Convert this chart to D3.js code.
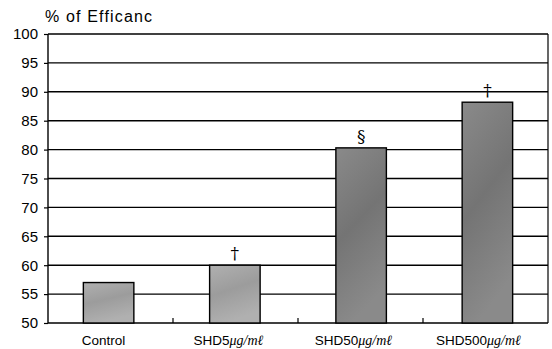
<!DOCTYPE html>
<html>
<head>
<meta charset="utf-8">
<script src="https://cdn.jsdelivr.net/npm/d3@7"></script>
<style>
  body { margin: 0; background: #fff; }
  svg { font-family: 'Liberation Sans', Arial, sans-serif; }
</style>
</head>
<body>
<div id="chart"></div>
<script>
// Chart data
var categories = ['Control', 'SHD5', 'SHD50', 'SHD500']
var unitLabels = ['', 'μg/mℓ', 'μg/mℓ', 'μg/mℓ']
var efficacy = [57, 60, 80.3, 88.2]
var markers = ['', '†', '§', '†']
var yTicks = [50, 55, 60, 65, 70, 75, 80, 85, 90, 95, 100]

var width = 552
var height = 349
var margin = { top: 34, right: 4, bottom: 26, left: 48 }

var svg = d3.select('#chart').append('svg')
  .attr('width', width)
  .attr('height', height)

// gray fills for the bars
var defs = svg.append('defs')
var grads = [['barLight', '#b0b0b0', '#9c9c9c'], ['barDark', '#8a8a8a', '#747474']]
grads.forEach(function (g) {
  var lg = defs.append('linearGradient')
    .attr('id', g[0])
    .attr('x1', 0).attr('y1', 0).attr('x2', 0.3).attr('y2', 1)
  lg.append('stop').attr('offset', '0%').attr('stop-color', g[1])
  lg.append('stop').attr('offset', '50%').attr('stop-color', g[2])
  lg.append('stop').attr('offset', '100%').attr('stop-color', g[1])
})

var x = d3.scaleBand()
  .domain(categories)
  .range([margin.left, width - margin.right])
  .paddingInner(0.6)
  .paddingOuter(0.28)

var xOuter = d3.scaleBand()
  .domain(categories)
  .range([margin.left, width - margin.right])

var y = d3.scaleLinear()
  .domain([50, 100])
  .range([height - margin.bottom, margin.top])

// gridlines
svg.append('g')
  .selectAll('line')
  .data(yTicks)
  .enter().append('line')
  .attr('x1', margin.left)
  .attr('x2', width - margin.right)
  .attr('y1', function (d) { return y(d) })
  .attr('y2', function (d) { return y(d) })
  .attr('stroke', '#000')
  .attr('stroke-width', 1.4)

// frame
svg.append('line')
  .attr('x1', margin.left).attr('x2', margin.left)
  .attr('y1', y(100)).attr('y2', y(50))
  .attr('stroke', '#000').attr('stroke-width', 1.4)
svg.append('line')
  .attr('x1', width - margin.right).attr('x2', width - margin.right)
  .attr('y1', y(100)).attr('y2', y(50))
  .attr('stroke', '#000').attr('stroke-width', 1.2)

// y axis
var yAxis = d3.axisLeft(y)
  .tickValues(yTicks)
  .tickSize(4)
  .tickPadding(6)
var yG = svg.append('g')
  .attr('transform', 'translate(' + margin.left + ',0)')
  .call(yAxis)
yG.select('.domain').remove()
yG.selectAll('line').attr('stroke', '#000').attr('stroke-width', 1.2)
yG.selectAll('text')
  .attr('font-size', 15)
  .attr('font-family', "'Liberation Sans', Arial, sans-serif")
  .attr('fill', '#000')

// category separators on the baseline
svg.append('g')
  .selectAll('line')
  .data(categories.slice(1))
  .enter().append('line')
  .attr('x1', function (d) { return xOuter(d) })
  .attr('x2', function (d) { return xOuter(d) })
  .attr('y1', y(50))
  .attr('y2', y(50) - 5)
  .attr('stroke', '#000')
  .attr('stroke-width', 1.2)

// bars
svg.append('g')
  .selectAll('rect')
  .data(categories)
  .enter().append('rect')
  .attr('x', function (d) { return x(d) })
  .attr('width', x.bandwidth())
  .attr('y', function (d, i) { return y(efficacy[i]) })
  .attr('height', function (d, i) { return y(50) - y(efficacy[i]) })
  .attr('fill', function (d, i) { return i < 2 ? 'url(#barLight)' : 'url(#barDark)' })
  .attr('stroke', '#000')
  .attr('stroke-width', 1.4)

// significance markers
svg.append('g')
  .selectAll('text')
  .data(categories)
  .enter().append('text')
  .attr('x', function (d) { return x(d) + x.bandwidth() / 2 })
  .attr('y', function (d, i) { return y(efficacy[i]) - 6 })
  .attr('text-anchor', 'middle')
  .attr('font-size', 17)
  .attr('font-family', "'DejaVu Serif', serif")
  .text(function (d, i) { return markers[i] })

// category labels
var labels = svg.append('g')
  .selectAll('text')
  .data(categories)
  .enter().append('text')
  .attr('x', function (d) { return xOuter(d) + xOuter.bandwidth() / 2 - 7 })
  .attr('y', height - 4)
  .attr('text-anchor', 'middle')
  .attr('font-size', 13.5)
labels.append('tspan').text(function (d) { return d })
labels.append('tspan')
  .attr('font-family', "'Liberation Serif', serif")
  .attr('font-style', 'italic')
  .attr('font-size', 14)
  .text(function (d, i) { return unitLabels[i] })

// y axis title
svg.append('text')
  .attr('x', 45)
  .attr('y', 22)
  .attr('font-size', 16)
  .attr('textLength', 107)
  .text('% of Efficanc')
</script>
</body>
</html>
